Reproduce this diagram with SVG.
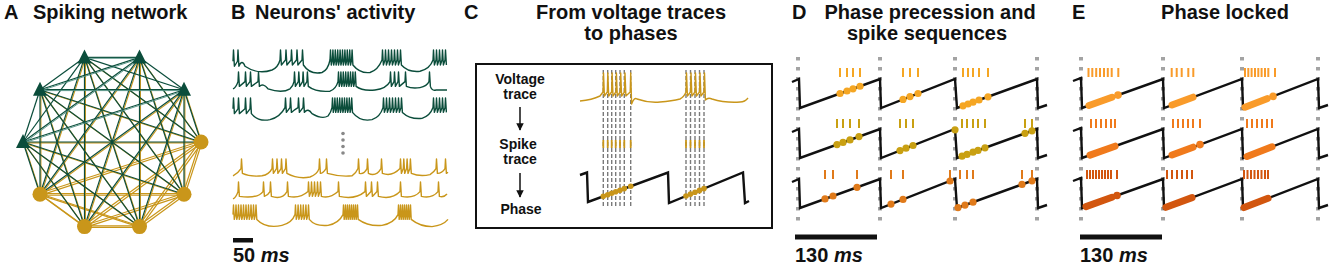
<svg xmlns="http://www.w3.org/2000/svg" width="1333" height="270" viewBox="0 0 1333 270">
<style>
.t{font-family:"Liberation Sans",Arial,Helvetica,sans-serif;font-weight:bold;fill:#111;}
.ttl{font-size:20px;}
.mid{text-anchor:middle;}
.lbl{font-size:14px;text-anchor:middle;}
.tg{fill:none;stroke:#0b4d3b;stroke-width:1.4;stroke-linejoin:round;vector-effect:non-scaling-stroke;}
.ty{fill:none;stroke:#c9961a;stroke-width:1.4;stroke-linejoin:round;vector-effect:non-scaling-stroke;}
.saw{fill:none;stroke:#111;stroke-width:2.4;stroke-linejoin:miter;}
.gd{stroke:#a3a3a3;stroke-width:4;stroke-dasharray:3.5 6.5;}
.cd{stroke:#7a7a7a;stroke-width:1.4;stroke-dasharray:4 2;}
.tk line{stroke-width:2;}
.seg{fill:none;stroke-width:7;stroke-linecap:round;}
.bar{fill:#111;}
</style>
<defs>
<marker id="ah" viewBox="0 0 10 10" refX="9" refY="5" markerWidth="5" markerHeight="5" orient="auto"><path d="M0,0 L10,5 L0,10 z" fill="#111"/></marker>
<g id="mx">
<line x1="23" y1="142" x2="201" y2="142"/><line x1="23" y1="142" x2="184" y2="194.3"/><line x1="23" y1="142" x2="139.5" y2="226.6"/><line x1="23" y1="142" x2="84.5" y2="226.6"/><line x1="23" y1="142" x2="40" y2="194.3"/>
<line x1="40" y1="89.7" x2="201" y2="142"/><line x1="40" y1="89.7" x2="184" y2="194.3"/><line x1="40" y1="89.7" x2="139.5" y2="226.6"/><line x1="40" y1="89.7" x2="84.5" y2="226.6"/><line x1="40" y1="89.7" x2="40" y2="194.3"/>
<line x1="84.5" y1="57.4" x2="201" y2="142"/><line x1="84.5" y1="57.4" x2="184" y2="194.3"/><line x1="84.5" y1="57.4" x2="139.5" y2="226.6"/><line x1="84.5" y1="57.4" x2="84.5" y2="226.6"/><line x1="84.5" y1="57.4" x2="40" y2="194.3"/>
<line x1="139.5" y1="57.4" x2="201" y2="142"/><line x1="139.5" y1="57.4" x2="184" y2="194.3"/><line x1="139.5" y1="57.4" x2="139.5" y2="226.6"/><line x1="139.5" y1="57.4" x2="84.5" y2="226.6"/><line x1="139.5" y1="57.4" x2="40" y2="194.3"/>
<line x1="184" y1="89.7" x2="201" y2="142"/><line x1="184" y1="89.7" x2="184" y2="194.3"/><line x1="184" y1="89.7" x2="139.5" y2="226.6"/><line x1="184" y1="89.7" x2="84.5" y2="226.6"/><line x1="184" y1="89.7" x2="40" y2="194.3"/>
</g>
<g id="cc">
<line x1="201" y1="142" x2="184" y2="194.3"/><line x1="201" y1="142" x2="139.5" y2="226.6"/><line x1="201" y1="142" x2="84.5" y2="226.6"/><line x1="201" y1="142" x2="40" y2="194.3"/>
<line x1="184" y1="194.3" x2="139.5" y2="226.6"/><line x1="184" y1="194.3" x2="84.5" y2="226.6"/><line x1="184" y1="194.3" x2="40" y2="194.3"/>
<line x1="139.5" y1="226.6" x2="84.5" y2="226.6"/><line x1="139.5" y1="226.6" x2="40" y2="194.3"/>
<line x1="84.5" y1="226.6" x2="40" y2="194.3"/>
</g>
<path id="sawD" d="M792,82 L799,79 L800,108 L880,79 L881,108 L955,79 L957,108 L1037,79 L1038,108 L1047,105"/>
<path id="sawE" d="M1073,81 L1081,78 L1082,108 L1163,79 L1164,108 L1242,79 L1243,108 L1318,79 L1319,108 L1328,105"/>
</defs>
<rect width="1333" height="270" fill="#fff"/>

<!-- Titles -->
<g id="titles" class="t ttl">
<text x="4" y="19">A</text><text x="33" y="19">Spiking network</text>
<text x="231" y="19">B</text><text x="255" y="19">Neurons' activity</text>
<text x="464" y="19">C</text><text class="mid" x="631" y="19">From voltage traces</text><text class="mid" x="631" y="40">to phases</text>
<text x="792" y="19">D</text><text class="mid" x="930" y="19">Phase precession and</text><text class="mid" x="927" y="40">spike sequences</text>
<text x="1072" y="19">E</text><text class="mid" x="1225" y="19">Phase locked</text>
</g>

<!-- Panel A: network -->
<g id="connectors" fill="none">
<use href="#cc" stroke="#c9961a" stroke-width="1.2" transform="translate(-0.8,-0.8)"/>
<use href="#cc" stroke="#c9961a" stroke-width="1.2" transform="translate(0.8,0.8)"/>
<use href="#mx" stroke="#c9961a" stroke-width="1.1" transform="translate(0.9,0.9)"/>
<use href="#mx" stroke="#0b4d3b" stroke-width="1.2"/>
<g stroke="#0b4d3b" stroke-width="1.2">
<line x1="23" y1="142" x2="40" y2="89.7"/><line x1="23" y1="142" x2="84.5" y2="57.4"/><line x1="23" y1="142" x2="139.5" y2="57.4"/><line x1="23" y1="142" x2="184" y2="89.7"/>
<line x1="40" y1="89.7" x2="84.5" y2="57.4"/><line x1="40" y1="89.7" x2="139.5" y2="57.4"/><line x1="40" y1="89.7" x2="184" y2="89.7"/>
<line x1="84.5" y1="57.4" x2="139.5" y2="57.4"/><line x1="84.5" y1="57.4" x2="184" y2="89.7"/>
<line x1="139.5" y1="57.4" x2="184" y2="89.7"/>
</g>
<g stroke="#4f8f80" stroke-width="0.9" transform="translate(0.9,0.9)">
<line x1="23" y1="142" x2="139.5" y2="57.4"/><line x1="23" y1="142" x2="184" y2="89.7"/><line x1="40" y1="89.7" x2="184" y2="89.7"/><line x1="84.5" y1="57.4" x2="139.5" y2="57.4"/><line x1="40" y1="89.7" x2="139.5" y2="57.4"/>
</g>
</g>
<g id="n0"><circle cx="201" cy="142" r="7.5" fill="#c9961a"/></g>
<g id="n1"><circle cx="184" cy="194.3" r="7.5" fill="#c9961a"/></g>
<g id="n2"><circle cx="139.5" cy="226.6" r="7.5" fill="#c9961a"/></g>
<g id="n3"><circle cx="84.5" cy="226.6" r="7.5" fill="#c9961a"/></g>
<g id="n4"><circle cx="40" cy="194.3" r="7.5" fill="#c9961a"/></g>
<g id="n5"><polygon points="23,134 16,148 30,148" fill="#0b4d3b"/></g>
<g id="n6"><polygon points="40,81.7 33,95.7 47,95.7" fill="#0b4d3b"/></g>
<g id="n7"><polygon points="84.5,49.4 77.5,63.4 91.5,63.4" fill="#0b4d3b"/></g>
<g id="n8"><polygon points="139.5,49.4 132.5,63.4 146.5,63.4" fill="#0b4d3b"/></g>
<g id="n9"><polygon points="184,81.7 177,95.7 191,95.7" fill="#0b4d3b"/></g>

<!-- Panel B: traces -->
<g id="panelB">
<path class="tg" transform="translate(0,50) scale(1,1.25)" d="M233,9 l0.5,-9 l0.9,13 l3.1,-4 l0.5,-9 l0.9,13 Q242,7 245,13 Q258,20 272,16 Q278,14 280,8 l0.5,-8 l0.9,12 l4.1,-4 l0.5,-8 l0.9,12 l4.1,-4 l0.5,-8 l0.9,12 l4.1,-4 l0.5,-8 l0.9,12 l4.1,-4 l0.5,-8 l0.9,12 Q310,20 322,18 Q328,16 330,8 l0.5,-8 l0.8,12 l1.1,-4 l0.5,-8 l0.8,12 l1.1,-4 l0.5,-8 l0.8,12 l1.1,-4 l0.5,-8 l0.8,12 l1.1,-4 l0.5,-8 l0.8,12 l1.1,-4 l0.5,-8 l0.8,12 l1.1,-4 l0.5,-8 l0.8,12 l1.1,-4 l0.5,-8 l0.8,12 l1.1,-4 l0.5,-8 l0.8,12 l1.1,-4 l0.5,-8 l0.8,12 Q360,19 370,18 Q378,16 382,8 l0.5,-8 l0.9,12 l1.6,-4 l0.5,-8 l0.9,12 l1.6,-4 l0.5,-8 l0.9,12 l1.6,-4 l0.5,-8 l0.9,12 l1.6,-4 l0.5,-8 l0.9,12 l1.6,-4 l0.5,-8 l0.9,12 l1.6,-4 l0.5,-8 l0.9,12 Q408,18 420,17 Q430,15 433,8 l0.5,-8 l0.9,12 l1.6,-4 l0.5,-8 l0.9,12 l1.6,-4 l0.5,-8 l0.9,12 l1.6,-4 l0.5,-8 l0.9,12 l1.6,-4 l0.5,-8 l0.9,12"/>
<path class="tg" transform="translate(0,72) scale(1,1.2)" d="M233,14 Q236,13 238,8 l0.5,-8 l0.9,12 L245,8 l0.5,-8 l0.9,12 L250,8 l0.5,-8 l0.9,12 L258,8 l0.5,-8 l0.9,12 Q263,9 268,14 Q282,18 290,14 Q293,12 294,8 l0.5,-8 l0.9,12 l2.9,-4 l0.5,-8 l0.9,12 l2.9,-4 l0.5,-8 l0.9,12 l2.9,-4 l0.5,-8 l0.9,12 Q316,17 330,16 Q336,14 338,8 l0.5,-8 l0.8,12 l1.1,-4 l0.5,-8 l0.8,12 l1.1,-4 l0.5,-8 l0.8,12 l1.1,-4 l0.5,-8 l0.8,12 l1.1,-4 l0.5,-8 l0.8,12 l1.1,-4 l0.5,-8 l0.8,12 l1.1,-4 l0.5,-8 l0.8,12 l1.1,-4 l0.5,-8 l0.8,12 Q362,16 375,15 Q386,14 390,8 l0.5,-8 l0.9,12 l2.6,-4 l0.5,-8 l0.9,12 l2.6,-4 l0.5,-8 l0.9,12 L405,8 l0.5,-8 l0.9,12 Q412,14 420,13 Q427,12 429,8 l0.5,-8 l0.9,12 Q432,16 436,15 L447,15"/>
<path class="tg" transform="translate(0,98) scale(1,1.2)" d="M233,9 l0.5,-9 l0.9,13 l3.6,-4 l0.5,-9 l0.9,13 l5.6,-4 l0.5,-9 l0.9,13 l3.6,-4 l0.5,-9 l0.9,13 Q258,20 270,18 Q280,16 285,8 l0.5,-8 l0.9,12 l3.6,-4 l0.5,-8 l0.9,12 Q294,10 298,8 l0.5,-8 l0.9,12 l3.6,-4 l0.5,-8 l0.9,12 Q308,8 312,13 Q322,18 328,15 Q331,12 332,8 l0.5,-8 l0.8,12 l1.1,-4 l0.5,-8 l0.8,12 l1.1,-4 l0.5,-8 l0.8,12 l1.1,-4 l0.5,-8 l0.8,12 l1.1,-4 l0.5,-8 l0.8,12 l1.1,-4 l0.5,-8 l0.8,12 l1.1,-4 l0.5,-8 l0.8,12 l1.1,-4 l0.5,-8 l0.8,12 l1.1,-4 l0.5,-8 l0.8,12 Q360,20 372,18 Q380,16 383,8 l0.5,-8 l0.9,12 l1.6,-4 l0.5,-8 l0.9,12 l1.6,-4 l0.5,-8 l0.9,12 l1.6,-4 l0.5,-8 l0.9,12 l1.6,-4 l0.5,-8 l0.9,12 l1.6,-4 l0.5,-8 l0.9,12 l1.6,-4 l0.5,-8 l0.9,12 Q410,18 422,17 Q430,15 433,8 l0.5,-8 l0.9,12 l1.6,-4 l0.5,-8 l0.9,12 l1.6,-4 l0.5,-8 l0.9,12 l1.6,-4 l0.5,-8 l0.9,12 l1.6,-4 l0.5,-8 l0.9,12"/>
<g fill="#888"><circle cx="343" cy="133.5" r="1.8"/><circle cx="343" cy="140" r="1.8"/><circle cx="343" cy="146.5" r="1.8"/><circle cx="343" cy="153" r="1.8"/></g>
<path class="ty" transform="translate(0,159) scale(1,1.2)" d="M233,14 Q238,12 241,8 l0.5,-8 l0.9,12 Q250,15 262,14 Q269,13 272,8 l0.5,-8 l0.9,12 l3.1,-4 l0.5,-8 l0.9,12 l3.1,-4 l0.5,-8 l0.9,12 l3.1,-4 l0.5,-8 l0.9,12 Q298,17 310,15 Q317,13 319,8 l0.5,-8 l0.9,12 Q323,12 326,8 l0.5,-8 l0.9,12 Q340,15 352,14 Q356,12 358,8 l0.5,-8 l0.9,12 Q364,13 367,8 l0.5,-8 l0.9,12 Q376,15 381,8 l0.5,-8 l0.9,12 Q392,15 400,8 l0.5,-8 l0.9,12 l1.9,-4 l0.5,-8 l0.9,12 l1.9,-4 l0.5,-8 l0.9,12 l1.9,-4 l0.5,-8 l0.9,12 Q420,15 430,13 Q434,11 436,8 l0.5,-8 l0.9,12 Q442,12 445,8 l0.5,-8 l0.9,12 L448,11"/>
<path class="ty" transform="translate(0,182) scale(1,1.2)" d="M233,14 Q236,13 238,8 l0.5,-8 l0.9,12 Q258,14 263,8 l0.5,-8 l0.9,12 Q268,11 270,8 l0.5,-8 l0.9,12 Q282,15 287,8 l0.5,-8 l0.9,12 Q300,14 308,8 l0.5,-8 l0.9,12 l1.6,-4 l0.5,-8 l0.9,12 l1.6,-4 l0.5,-8 l0.9,12 l1.6,-4 l0.5,-8 l0.9,12 l1.6,-4 l0.5,-8 l0.9,12 Q330,14 338,8 l0.5,-8 l0.9,12 Q355,15 365,8 l0.5,-8 l0.9,12 l4.6,-4 l0.5,-8 l0.9,12 l4.6,-4 l0.5,-8 l0.9,12 Q392,15 400,8 l0.5,-8 l0.9,12 Q414,14 420,8 l0.5,-8 l0.9,12 Q432,14 438,8 l0.5,-8 l0.9,12 Q444,13 447,10"/>
<path class="ty" transform="translate(0,205) scale(1,1.2)" d="M233,8 l0.5,-8 l0.8,12 l1.2,-4 l0.5,-8 l0.8,12 l1.2,-4 l0.5,-8 l0.8,12 l1.2,-4 l0.5,-8 l0.8,12 l1.2,-4 l0.5,-8 l0.8,12 l1.2,-4 l0.5,-8 l0.8,12 l1.2,-4 l0.5,-8 l0.8,12 l1.2,-4 l0.5,-8 l0.8,12 l1.2,-4 l0.5,-8 l0.8,12 l1.2,-4 l0.5,-8 l0.8,12 Q266,20 282,17 Q292,15 295,8 l0.5,-8 l0.8,12 l1.3,-4 l0.5,-8 l0.8,12 l1.3,-4 l0.5,-8 l0.8,12 l1.3,-4 l0.5,-8 l0.8,12 l1.3,-4 l0.5,-8 l0.8,12 l1.3,-4 l0.5,-8 l0.8,12 Q315,18 328,17 Q339,15 343,8 l0.5,-8 l0.7,12 l0.8,-4 l0.5,-8 l0.7,12 l0.8,-4 l0.5,-8 l0.7,12 l0.8,-4 l0.5,-8 l0.7,12 l0.8,-4 l0.5,-8 l0.7,12 l0.8,-4 l0.5,-8 l0.7,12 l0.8,-4 l0.5,-8 l0.7,12 l0.8,-4 l0.5,-8 l0.7,12 Q368,18 382,17 Q394,15 398,8 l0.5,-8 l0.7,12 l0.8,-4 l0.5,-8 l0.7,12 l0.8,-4 l0.5,-8 l0.7,12 l0.8,-4 l0.5,-8 l0.7,12 l0.8,-4 l0.5,-8 l0.7,12 l0.8,-4 l0.5,-8 l0.7,12 l0.8,-4 l0.5,-8 l0.7,12 Q420,18 432,18 Q443,17 448,12"/>
<rect class="bar" x="233" y="238" width="20" height="4.5"/>
<text class="t ttl" x="233" y="262">50 <tspan font-style="italic">ms</tspan></text>
</g>

<!-- Panel C -->
<g id="panelC">
<rect x="476" y="64" width="296" height="164" fill="none" stroke="#111" stroke-width="2"/>
<g class="t lbl">
<text x="520" y="84">Voltage</text><text x="520" y="99">trace</text>
<text x="518" y="149">Spike</text><text x="520" y="164">trace</text>
<text x="521" y="214">Phase</text>
</g>
<line x1="520" y1="107" x2="520" y2="130" stroke="#111" stroke-width="1.5" marker-end="url(#ah)"/>
<line x1="520" y1="173" x2="520" y2="197" stroke="#111" stroke-width="1.5" marker-end="url(#ah)"/>
<g class="cd">
<line x1="603.3" y1="70" x2="603.3" y2="206"/><line x1="607.7" y1="70" x2="607.7" y2="206"/><line x1="611.7" y1="70" x2="611.7" y2="206"/><line x1="615.7" y1="70" x2="615.7" y2="206"/><line x1="620" y1="70" x2="620" y2="206"/><line x1="624.3" y1="70" x2="624.3" y2="206"/><line x1="630.7" y1="70" x2="630.7" y2="206"/>
<line x1="686" y1="70" x2="686" y2="206"/><line x1="690.5" y1="70" x2="690.5" y2="206"/><line x1="695" y1="70" x2="695" y2="206"/><line x1="699.5" y1="70" x2="699.5" y2="206"/><line x1="704" y1="70" x2="704" y2="206"/>
</g>
<path class="ty" stroke-width="1.5" d="M580,101 Q592,100 600,96 L603,92 l0.5,-19 l0.9,23 l2.9,-4 l0.5,-19 l0.9,23 l2.9,-4 l0.5,-19 l0.9,23 l2.9,-4 l0.5,-19 l0.9,23 l2.9,-4 l0.5,-19 l0.9,23 l2.9,-4 l0.5,-19 l0.9,23 L630.2,92 l0.5,-19 l0.9,31 Q634,97 637,99 Q648,103 660,102 Q672,101 680,99 Q684,97 686,92 l0.5,-19 l0.9,23 l3.1,-4 l0.5,-19 l0.9,23 l3.1,-4 l0.5,-19 l0.9,23 l3.1,-4 l0.5,-19 l0.9,23 l3.1,-4 l0.5,-19 l0.9,27 Q708,97 712,99 Q725,103 740,102 Q745,102 748,98"/>
<g stroke="#c9961a" stroke-width="1.8">
<line x1="603.3" y1="140" x2="603.3" y2="148"/><line x1="607.7" y1="140" x2="607.7" y2="148"/><line x1="611.7" y1="140" x2="611.7" y2="148"/><line x1="615.7" y1="140" x2="615.7" y2="148"/><line x1="620" y1="140" x2="620" y2="148"/><line x1="624.3" y1="140" x2="624.3" y2="148"/><line x1="630.7" y1="140" x2="630.7" y2="148"/>
<line x1="686" y1="140" x2="686" y2="148"/><line x1="690.5" y1="140" x2="690.5" y2="148"/><line x1="695" y1="140" x2="695" y2="148"/><line x1="699.5" y1="140" x2="699.5" y2="148"/><line x1="704" y1="140" x2="704" y2="148"/>
</g>
<path class="saw" stroke-width="2.2" d="M580,175 L587,172.5 L588,202 L668,172.5 L669,203 L743,172.5 L745,203 L749,201"/>
<g fill="#c9961a">
<circle cx="603.3" cy="196.35" r="2.8"/><circle cx="607.7" cy="194.7" r="2.8"/><circle cx="611.7" cy="193.25" r="2.8"/><circle cx="615.7" cy="191.8" r="2.8"/><circle cx="620" cy="190.2" r="2.8"/><circle cx="624.3" cy="188.6" r="2.8"/><circle cx="630.7" cy="186.25" r="2.8"/>
<circle cx="686" cy="196" r="2.8"/><circle cx="690.5" cy="194.1" r="2.8"/><circle cx="695" cy="192.3" r="2.8"/><circle cx="699.5" cy="190.4" r="2.8"/><circle cx="704" cy="188.6" r="2.8"/>
</g>
</g>

<!-- Panel D -->
<g id="panelD">
<g class="gd"><line x1="798" y1="57" x2="798" y2="221"/><line x1="880" y1="57" x2="880" y2="221"/><line x1="955" y1="57" x2="955" y2="221"/><line x1="1037" y1="57" x2="1037" y2="221"/></g>
<use href="#sawD" class="saw"/><use href="#sawD" class="saw" transform="translate(0,50)"/><use href="#sawD" class="saw" transform="translate(0,100)"/>
<g class="tk" stroke="#f5a623"><line x1="840" y1="68" x2="840" y2="77"/><line x1="847" y1="68" x2="847" y2="77"/><line x1="853" y1="68" x2="853" y2="77"/><line x1="860" y1="68" x2="860" y2="77"/><line x1="903" y1="68" x2="903" y2="77"/><line x1="910" y1="68" x2="910" y2="77"/><line x1="918" y1="68" x2="918" y2="77"/><line x1="963" y1="68" x2="963" y2="77"/><line x1="968" y1="68" x2="968" y2="77"/><line x1="973" y1="68" x2="973" y2="77"/><line x1="979" y1="68" x2="979" y2="77"/><line x1="988" y1="68" x2="988" y2="77"/></g>
<g fill="#f5a623"><circle cx="840" cy="93.5" r="3.6"/><circle cx="847" cy="91" r="3.6"/><circle cx="853" cy="88.8" r="3.6"/><circle cx="860" cy="86.25" r="3.6"/><circle cx="903" cy="99.4" r="3.6"/><circle cx="910" cy="96.6" r="3.6"/><circle cx="918" cy="93.5" r="3.6"/><circle cx="963" cy="105.8" r="3.6"/><circle cx="968" cy="104" r="3.6"/><circle cx="973" cy="102.2" r="3.6"/><circle cx="979" cy="100" r="3.6"/><circle cx="988" cy="96.8" r="3.6"/></g>
<g class="tk" stroke="#c9a012"><line x1="837" y1="119" x2="837" y2="128"/><line x1="843" y1="119" x2="843" y2="128"/><line x1="850" y1="119" x2="850" y2="128"/><line x1="859" y1="119" x2="859" y2="128"/><line x1="900" y1="119" x2="900" y2="128"/><line x1="906" y1="119" x2="906" y2="128"/><line x1="913" y1="119" x2="913" y2="128"/><line x1="962" y1="119" x2="962" y2="128"/><line x1="967" y1="119" x2="967" y2="128"/><line x1="973" y1="119" x2="973" y2="128"/><line x1="978" y1="119" x2="978" y2="128"/><line x1="985" y1="119" x2="985" y2="128"/><line x1="1025" y1="119" x2="1025" y2="128"/><line x1="1032" y1="119" x2="1032" y2="128"/></g>
<g fill="#c9a012"><circle cx="837" cy="144.6" r="3.6"/><circle cx="843" cy="142.4" r="3.6"/><circle cx="850" cy="139.9" r="3.6"/><circle cx="859" cy="136.6" r="3.6"/><circle cx="900" cy="150.55" r="3.6"/><circle cx="906" cy="148.2" r="3.6"/><circle cx="913" cy="145.5" r="3.6"/><circle cx="955" cy="129.8" r="3.6"/><circle cx="962" cy="156.2" r="3.6"/><circle cx="967" cy="154.4" r="3.6"/><circle cx="973" cy="152.2" r="3.6"/><circle cx="978" cy="150.4" r="3.6"/><circle cx="985" cy="147.85" r="3.6"/><circle cx="1025" cy="133.35" r="3.6"/><circle cx="1032" cy="130.8" r="3.6"/></g>
<g class="tk" stroke="#e07a1a"><line x1="825" y1="170" x2="825" y2="179"/><line x1="833" y1="170" x2="833" y2="179"/><line x1="857" y1="170" x2="857" y2="179"/><line x1="891" y1="170" x2="891" y2="179"/><line x1="903" y1="170" x2="903" y2="179"/><line x1="950" y1="170" x2="950" y2="179"/><line x1="960" y1="170" x2="960" y2="179"/><line x1="967" y1="170" x2="967" y2="179"/><line x1="973" y1="170" x2="973" y2="179"/><line x1="1022" y1="170" x2="1022" y2="179"/><line x1="1032" y1="170" x2="1032" y2="179"/></g>
<g fill="#e07a1a"><circle cx="825" cy="198.9" r="3.6"/><circle cx="833" cy="196" r="3.6"/><circle cx="857" cy="187.3" r="3.6"/><circle cx="891" cy="204.1" r="3.6"/><circle cx="903" cy="199.4" r="3.6"/><circle cx="950" cy="181" r="3.6"/><circle cx="958" cy="207.6" r="3.6"/><circle cx="965" cy="205.1" r="3.6"/><circle cx="973" cy="202.2" r="3.6"/><circle cx="1022" cy="184.4" r="3.6"/><circle cx="1032" cy="180.8" r="3.6"/></g>
<rect class="bar" x="795" y="234.5" width="82" height="5"/>
<text class="t ttl" x="795" y="262">130 <tspan font-style="italic">ms</tspan></text>
</g>

<!-- Panel E -->
<g id="panelE">
<g class="gd"><line x1="1081" y1="57" x2="1081" y2="221"/><line x1="1163" y1="57" x2="1163" y2="221"/><line x1="1242" y1="57" x2="1242" y2="221"/><line x1="1318" y1="57" x2="1318" y2="221"/></g>
<use href="#sawE" class="saw"/><use href="#sawE" class="saw" transform="translate(0,50)"/><use href="#sawE" class="saw" transform="translate(0,100)"/>
<g class="tk" stroke="#f99b2a"><line x1="1088.5" y1="68" x2="1088.5" y2="77"/><line x1="1092.3" y1="68" x2="1092.3" y2="77"/><line x1="1096.2" y1="68" x2="1096.2" y2="77"/><line x1="1100" y1="68" x2="1100" y2="77"/><line x1="1104" y1="68" x2="1104" y2="77"/><line x1="1107.8" y1="68" x2="1107.8" y2="77"/><line x1="1111.7" y1="68" x2="1111.7" y2="77"/><line x1="1118.3" y1="68" x2="1118.3" y2="77"/><line x1="1171.7" y1="68" x2="1171.7" y2="77"/><line x1="1176.7" y1="68" x2="1176.7" y2="77"/><line x1="1181.7" y1="68" x2="1181.7" y2="77"/><line x1="1188.3" y1="68" x2="1188.3" y2="77"/><line x1="1193.3" y1="68" x2="1193.3" y2="77"/><line x1="1245" y1="68" x2="1245" y2="77"/><line x1="1248.3" y1="68" x2="1248.3" y2="77"/><line x1="1251.6" y1="68" x2="1251.6" y2="77"/><line x1="1255" y1="68" x2="1255" y2="77"/><line x1="1258.3" y1="68" x2="1258.3" y2="77"/><line x1="1261.6" y1="68" x2="1261.6" y2="77"/><line x1="1265" y1="68" x2="1265" y2="77"/><line x1="1268.3" y1="68" x2="1268.3" y2="77"/><line x1="1275" y1="68" x2="1275" y2="77"/></g>
<g stroke="#f99b2a" class="seg"><line x1="1089" y1="105.5" x2="1112" y2="97.3"/><line x1="1172" y1="105" x2="1193" y2="97.2"/><line x1="1245" y1="107.2" x2="1267" y2="98.7"/></g>
<g fill="#f99b2a"><circle cx="1118" cy="95.1" r="3.8"/><circle cx="1273" cy="96.4" r="3.8"/></g>
<g class="tk" stroke="#f07a1c"><line x1="1091" y1="119" x2="1091" y2="128"/><line x1="1096" y1="119" x2="1096" y2="128"/><line x1="1101" y1="119" x2="1101" y2="128"/><line x1="1106" y1="119" x2="1106" y2="128"/><line x1="1111" y1="119" x2="1111" y2="128"/><line x1="1115" y1="119" x2="1115" y2="128"/><line x1="1173" y1="119" x2="1173" y2="128"/><line x1="1178" y1="119" x2="1178" y2="128"/><line x1="1183" y1="119" x2="1183" y2="128"/><line x1="1188" y1="119" x2="1188" y2="128"/><line x1="1193" y1="119" x2="1193" y2="128"/><line x1="1200" y1="119" x2="1200" y2="128"/><line x1="1247" y1="119" x2="1247" y2="128"/><line x1="1252" y1="119" x2="1252" y2="128"/><line x1="1257" y1="119" x2="1257" y2="128"/><line x1="1262" y1="119" x2="1262" y2="128"/><line x1="1267" y1="119" x2="1267" y2="128"/><line x1="1272" y1="119" x2="1272" y2="128"/></g>
<g stroke="#f07a1c" class="seg"><line x1="1090" y1="155.1" x2="1115" y2="146.2"/><line x1="1172" y1="155" x2="1193" y2="147.2"/><line x1="1247" y1="156.45" x2="1272" y2="146.8"/></g>
<g fill="#f07a1c"><circle cx="1200" cy="144.6" r="3.8"/></g>
<g class="tk" stroke="#d2560f"><line x1="1087" y1="170" x2="1087" y2="179"/><line x1="1090" y1="170" x2="1090" y2="179"/><line x1="1093" y1="170" x2="1093" y2="179"/><line x1="1096" y1="170" x2="1096" y2="179"/><line x1="1099" y1="170" x2="1099" y2="179"/><line x1="1102" y1="170" x2="1102" y2="179"/><line x1="1105" y1="170" x2="1105" y2="179"/><line x1="1108" y1="170" x2="1108" y2="179"/><line x1="1111" y1="170" x2="1111" y2="179"/><line x1="1117" y1="170" x2="1117" y2="179"/><line x1="1167" y1="170" x2="1167" y2="179"/><line x1="1172" y1="170" x2="1172" y2="179"/><line x1="1177" y1="170" x2="1177" y2="179"/><line x1="1182" y1="170" x2="1182" y2="179"/><line x1="1187" y1="170" x2="1187" y2="179"/><line x1="1192" y1="170" x2="1192" y2="179"/><line x1="1244" y1="170" x2="1244" y2="179"/><line x1="1247.5" y1="170" x2="1247.5" y2="179"/><line x1="1251" y1="170" x2="1251" y2="179"/><line x1="1254.5" y1="170" x2="1254.5" y2="179"/><line x1="1258" y1="170" x2="1258" y2="179"/><line x1="1261.5" y1="170" x2="1261.5" y2="179"/><line x1="1265" y1="170" x2="1265" y2="179"/><line x1="1268" y1="170" x2="1268" y2="179"/></g>
<g stroke="#d2560f" class="seg"><line x1="1086" y1="206.6" x2="1112" y2="197.3"/><line x1="1166" y1="207.3" x2="1192" y2="197.6"/><line x1="1244" y1="207.6" x2="1268" y2="198.3"/></g>
<g fill="#d2560f"><circle cx="1117" cy="195.5" r="3.8"/></g>
<rect class="bar" x="1080" y="234.5" width="82" height="5"/>
<text class="t ttl" x="1080" y="262">130 <tspan font-style="italic">ms</tspan></text>
</g>
</svg>
